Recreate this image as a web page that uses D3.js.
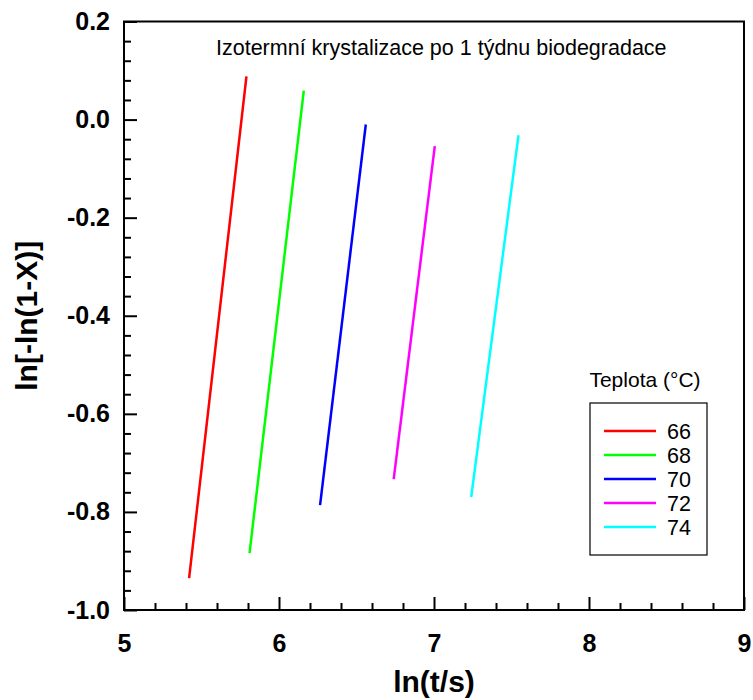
<!DOCTYPE html>
<html>
<head>
<meta charset="utf-8">
<script src="https://cdn.jsdelivr.net/npm/d3@7"></script>
<style>
  body { margin: 0; background: #fff; }
  svg { font-family: "Liberation Sans", Arial, sans-serif; }
</style>
</head>
<body>
<svg id="chart" width="753" height="700"></svg>
<script>
// Avrami plot, one line per crystallisation temperature
const temps = [66, 68, 70, 72, 74]
const colors = ["#ff0000", "#00ff00", "#0000ff", "#ff00ff", "#00ffff"]
const lnT = [
    [5.42, 5.79],
    [5.81, 6.16],
    [6.265, 6.56],
    [6.74, 7.005],
    [7.24, 7.545]
]
const lnLn = [
    [-0.935, 0.088],
    [-0.884, 0.059],
    [-0.786, -0.01],
    [-0.733, -0.054],
    [-0.77, -0.032]
]
const xTicks = [5, 6, 7, 8, 9]
const yTicks = [0.2, 0.0, -0.2, -0.4, -0.6, -0.8, -1.0]

const margin = { left: 124, right: 9, top: 21.5, bottom: 90 }
const width = 753, height = 700

const svg = d3.select("#chart")

const x = d3.scaleLinear().domain([5, 9]).range([margin.left, width - margin.right])
const y = d3.scaleLinear().domain([-1.0, 0.2]).range([height - margin.bottom, margin.top])

// minor ticks
const xMinor = d3.range(5, 9.001, 0.2).filter(v => Math.abs(v - Math.round(v)) > 1e-6)
const yMinor = d3.range(-1.0, 0.2001, 0.04).filter(v => Math.abs(v * 5 - Math.round(v * 5)) > 1e-6)

const xAxis = svg.append("g")
    .attr("transform", `translate(0,${y(-1.0)})`)
    .call(d3.axisBottom(x).tickValues(xTicks).tickSizeInner(-13).tickSizeOuter(0).tickPadding(24).tickFormat(d3.format("d")))
xAxis.select(".domain").remove()
xAxis.selectAll("line").attr("stroke-width", 2)
xAxis.selectAll("text").attr("font-size", 25).attr("font-weight", "bold").attr("fill", "#000")
    .attr("font-family", "Liberation Sans, Arial, sans-serif")

svg.append("g")
    .attr("transform", `translate(0,${y(-1.0)})`)
    .call(d3.axisBottom(x).tickValues(xMinor).tickSizeInner(-7).tickSizeOuter(0).tickFormat(""))
    .call(g => g.select(".domain").remove())
    .selectAll("line").attr("stroke-width", 2)

const yAxis = svg.append("g")
    .attr("transform", `translate(${x(5)},0)`)
    .call(d3.axisLeft(y).tickValues(yTicks).tickSizeInner(-13).tickSizeOuter(0).tickPadding(14).tickFormat(d3.format(".1f")))
yAxis.select(".domain").remove()
yAxis.selectAll("line").attr("stroke-width", 2)
yAxis.selectAll("text").attr("font-size", 25).attr("font-weight", "bold").attr("fill", "#000")
    .attr("font-family", "Liberation Sans, Arial, sans-serif")
    .text(d => d3.format(".1f")(d).replace("−", "-"))

svg.append("g")
    .attr("transform", `translate(${x(5)},0)`)
    .call(d3.axisLeft(y).tickValues(yMinor).tickSizeInner(-7).tickSizeOuter(0).tickFormat(""))
    .call(g => g.select(".domain").remove())
    .selectAll("line").attr("stroke-width", 2)

// frame
svg.append("rect")
    .attr("x", x(5)).attr("y", y(0.2))
    .attr("width", x(9) - x(5)).attr("height", y(-1.0) - y(0.2))
    .attr("fill", "none").attr("stroke", "#000").attr("stroke-width", 2)

// data lines
const line = d3.line().x(d => x(d[0])).y(d => y(d[1]))
svg.append("g")
    .selectAll("path")
    .data(temps)
    .join("path")
    .attr("fill", "none")
    .attr("stroke", (d, i) => colors[i])
    .attr("stroke-width", 2.5)
    .attr("d", (d, i) => line(lnT[i].map((t, j) => [t, lnLn[i][j]])))

// title
svg.append("text")
    .attr("x", 216).attr("y", 55)
    .attr("font-size", 21.5)
    .text("Izotermní krystalizace po 1 týdnu biodegradace")

// axis titles
svg.append("text")
    .attr("x", (x(5) + x(9)) / 2).attr("y", 692)
    .attr("text-anchor", "middle")
    .attr("font-size", 30).attr("font-weight", "bold")
    .text("ln(t/s)")

svg.append("text")
    .attr("transform", `translate(37,${(y(0.2) + y(-1.0)) / 2}) rotate(-90)`)
    .attr("text-anchor", "middle")
    .attr("font-size", 30).attr("font-weight", "bold")
    .text("ln[-ln(1-X)]")

// legend
svg.append("text")
    .attr("x", 645).attr("y", 387)
    .attr("text-anchor", "middle")
    .attr("font-size", 21)
    .text("Teplota (°C)")

svg.append("rect")
    .attr("x", 590).attr("y", 403)
    .attr("width", 117).attr("height", 152)
    .attr("fill", "none").attr("stroke", "#000").attr("stroke-width", 1.2)

const leg = svg.append("g")
    .selectAll("g")
    .data(temps)
    .join("g")
    .attr("transform", (d, i) => `translate(0,${431 + i * 24})`)
leg.append("line")
    .attr("x1", 604).attr("x2", 656)
    .attr("stroke", (d, i) => colors[i])
    .attr("stroke-width", 2.5)
leg.append("text")
    .attr("x", 667).attr("y", 8)
    .attr("font-size", 21.5)
    .text(d => d)
</script>
</body>
</html>
